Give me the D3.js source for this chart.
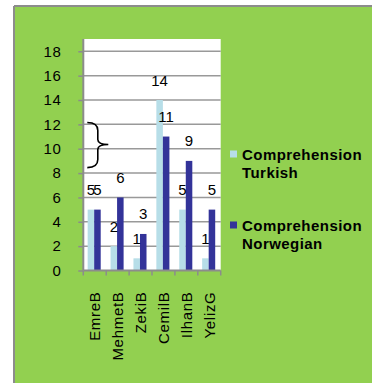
<!DOCTYPE html>
<html>
<head>
<meta charset="utf-8">
<script src="https://cdn.jsdelivr.net/npm/d3@7"></script>
<style>
  html, body { margin: 0; padding: 0; background: #ffffff; }
  svg { display: block; }
  text { font-family: "Liberation Sans", Arial, sans-serif; fill: #000; }
</style>
</head>
<body>
<svg id="chart" width="372" height="383"></svg>
<script>
// Comprehension scores per student
const categories = ["EmreB", "MehmetB", "ZekiB", "CemilB", "IlhanB", "YelizG"];
const seriesNames = ["Comprehension Turkish", "Comprehension Norwegian"];
const turkish = [5, 2, 1, 14, 5, 1];
const norwegian = [5, 6, 3, 11, 9, 5];
const yTicks = [0, 2, 4, 6, 8, 10, 12, 14, 16, 18];
const colors = ["#b7dee8", "#333399"];

const series = [turkish, norwegian];
const svg = d3.select("#chart");

// Panel background with grey top/left edge
svg.append("rect").attr("x", 14).attr("y", 6).attr("width", 372).attr("height", 383)
  .attr("fill", "#92d050");
svg.append("line").attr("x1", 14).attr("x2", 14).attr("y1", 6).attr("y2", 383)
  .attr("stroke", "#8c8c8c").attr("stroke-width", 2);
svg.append("line").attr("x1", 14).attr("x2", 372).attr("y1", 6).attr("y2", 6)
  .attr("stroke", "#8c8c8c").attr("stroke-width", 2);

const plot = { left: 83.3, right: 220.7, top: 39, bottom: 270.5 };

const y = d3.scaleLinear().domain([0, 18]).range([plot.bottom, 51.3]);
const x0 = d3.scaleBand().domain(categories).range([plot.left, plot.right]).padding(0);
const bw = x0.bandwidth();
const x1 = d3.scaleBand().domain(d3.range(series.length)).range([bw * 0.19, bw * 0.76]).padding(0);

// Plot area
svg.append("rect").attr("x", plot.left).attr("y", plot.top)
  .attr("width", plot.right - plot.left).attr("height", plot.bottom - plot.top)
  .attr("fill", "#ffffff");

// Gridlines
svg.append("g").selectAll("line").data(yTicks.filter(d => d > 0)).join("line")
  .attr("x1", plot.left).attr("x2", plot.right)
  .attr("y1", d => y(d)).attr("y2", d => y(d))
  .attr("stroke", "#999999").attr("stroke-width", 1.5);

// Y axis
const yAxis = svg.append("g").attr("transform", `translate(${plot.left},0)`)
  .call(d3.axisLeft(y).tickValues(yTicks).tickSize(5).tickPadding(17));
yAxis.select(".domain").attr("stroke", "#8c8c8c").attr("stroke-width", 2)
  .attr("d", `M0,${plot.top}V${plot.bottom}`);
yAxis.selectAll(".tick line").attr("stroke", "#8c8c8c").attr("stroke-width", 1.5);
yAxis.selectAll(".tick text").attr("font-size", 15).attr("font-family", "Liberation Sans, Arial, sans-serif")
  .attr("letter-spacing", 0.5).attr("fill", "#000");

// Bars
const groups = svg.append("g").selectAll("g").data(categories).join("g")
  .attr("transform", d => `translate(${x0(d)},0)`);
groups.selectAll("rect").data((c, i) => series.map((s, k) => ({ k, v: s[i] }))).join("rect")
  .attr("x", d => x1(d.k)).attr("width", x1.bandwidth())
  .attr("y", d => y(d.v)).attr("height", d => y(0) - y(d.v))
  .attr("fill", d => colors[d.k]);

// Value labels
groups.selectAll("text").data((c, i) => series.map((s, k) => ({ k, v: s[i] }))).join("text")
  .attr("x", d => x1(d.k) + x1.bandwidth() / 2)
  .attr("y", d => y(d.v) - 14.5)
  .attr("text-anchor", "middle").attr("font-size", 15)
  .text(d => d.v);

// X axis
const xAxis = svg.append("g").attr("transform", `translate(0,${plot.bottom})`);
xAxis.append("line").attr("x1", plot.left).attr("x2", plot.right)
  .attr("stroke", "#8c8c8c").attr("stroke-width", 2);
xAxis.selectAll("line.tk").data(d3.range(categories.length + 1)).join("line").attr("class", "tk")
  .attr("x1", i => plot.left + i * bw).attr("x2", i => plot.left + i * bw)
  .attr("y1", 0).attr("y2", 5)
  .attr("stroke", "#8c8c8c").attr("stroke-width", 1.5);
xAxis.selectAll("text").data(categories).join("text")
  .attr("transform", d => `translate(${x0(d) + bw / 2 + 5.5},21) rotate(-90)`)
  .attr("text-anchor", "end").attr("font-size", 15).attr("letter-spacing", 0.7)
  .text(d => d);

// Curly brace beside EmreB
const bx = x0("EmreB");
const bTop = y(12.15), bTip = y(10.35), bBot = y(8.45);
const bl = bx + 4, bm = bx + 14.5, br = bx + 25;
svg.append("path")
  .attr("d", `M${bl},${bTop} Q${bm},${bTop} ${bm},${bTop + 8} L${bm},${bTip - 5} Q${bm},${bTip} ${br},${bTip}` +
             ` Q${bm},${bTip} ${bm},${bTip + 5} L${bm},${bBot - 8} Q${bm},${bBot} ${bl},${bBot}`)
  .attr("fill", "none").attr("stroke", "#000").attr("stroke-width", 1.6);

// Legend
const legend = svg.append("g").selectAll("g").data(seriesNames).join("g")
  .attr("transform", (d, i) => `translate(230,${150.5 + i * 71})`);
legend.append("rect").attr("width", 7).attr("height", 7).attr("fill", (d, i) => colors[i]);
legend.append("text").attr("x", 12).attr("y", 9)
  .attr("font-size", 15).attr("font-weight", "bold").attr("letter-spacing", 0.45)
  .selectAll("tspan").data(d => d.split(" ")).join("tspan")
  .attr("x", 12).attr("dy", (d, j) => j === 0 ? 0 : 18.4)
  .text(d => d);
</script>
</body>
</html>
